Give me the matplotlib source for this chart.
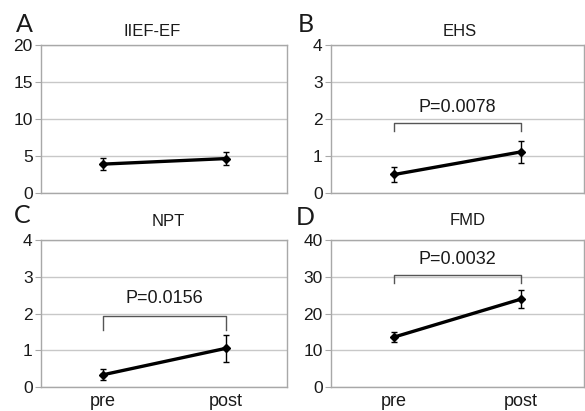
import matplotlib
matplotlib.use('Agg')
import matplotlib.pyplot as plt

plt.rcParams['font.family'] = ['Liberation Sans', 'DejaVu Sans']

# data (mean +/- error)
groups = ['pre', 'post']
panel_letters = ['A', 'B', 'C', 'D']
titles = ['IIEF-EF', 'EHS', 'NPT', 'FMD']
means = [[3.9, 4.65], [0.5, 1.11], [0.33, 1.05], [13.6, 23.9]]
errors = [[0.85, 0.85], [0.2, 0.3], [0.15, 0.36], [1.4, 2.5]]
y_max = [20, 4, 4, 40]
y_step = [5, 1, 1, 10]
p_texts = [None, 'P=0.0078', 'P=0.0156', 'P=0.0032']
bracket_y = [None, 1.9, 1.93, 30.5]
bracket_drop = [None, 0.23, 0.37, 2.3]

W, H = 585, 411
fig = plt.figure(figsize=(W / 100, H / 100), dpi=100)

# axes boxes in pixels: left, top, right, bottom
boxes = [(41, 45, 287, 193), (331, 45, 584, 193),
         (41, 240, 287, 387), (331, 240, 584, 387)]
letter_pos = [(24, 24), (306, 24), (22, 215), (305, 217)]
title_pos = [(152, 31), (460, 32), (168, 221), (468, 220)]

grid_col = '#c8c8c8'
frame_col = '#a8a8a8'

for i in range(4):
    l, t, r, b = boxes[i]
    ax = fig.add_axes([l / W, 1 - b / H, (r - l) / W, (b - t) / H])
    x = list(range(len(groups)))
    ax.errorbar(x, means[i], yerr=errors[i], color='black', lw=2.4,
                marker='D', ms=4, elinewidth=1.0, capsize=2.5, capthick=1.0,
                zorder=3)
    ax.set_xlim(-0.5, 1.5)
    ax.set_ylim(0, y_max[i])
    ax.set_yticks(range(0, y_max[i] + 1, y_step[i]))
    ax.yaxis.grid(True, color=grid_col, lw=1.0)
    ax.set_axisbelow(True)
    for s in ax.spines.values():
        s.set_color(frame_col)
        s.set_linewidth(1.0)
    ax.tick_params(axis='y', length=4, color=frame_col, labelsize=12.5,
                   labelcolor='#1a1a1a', pad=2)
    if i >= 2:
        ax.set_xticks(x)
        ax.set_xticklabels(groups)
        ax.tick_params(axis='x', length=0, labelsize=13,
                       labelcolor='#1a1a1a', pad=4)
    else:
        ax.set_xticks([])

    if p_texts[i]:
        by = bracket_y[i]
        bd = bracket_drop[i]
        ax.plot([0, 0, 1, 1], [by - bd, by, by, by - bd], color='#555555',
                lw=1.0, zorder=2)
        ax.text(0.5, by + bd * 0.5 + y_max[i] * 0.015, p_texts[i], ha='center',
                va='bottom', fontsize=13, color='#1a1a1a')

    fig.text(letter_pos[i][0] / W, 1 - letter_pos[i][1] / H, panel_letters[i],
             fontsize=18, family=['Lato', 'DejaVu Sans'], ha='center',
             va='center', color='#1a1a1a')
    fig.text(title_pos[i][0] / W, 1 - title_pos[i][1] / H, titles[i],
             fontsize=12, ha='center', va='center', color='#1a1a1a')

fig.savefig('out.png', dpi=100)
